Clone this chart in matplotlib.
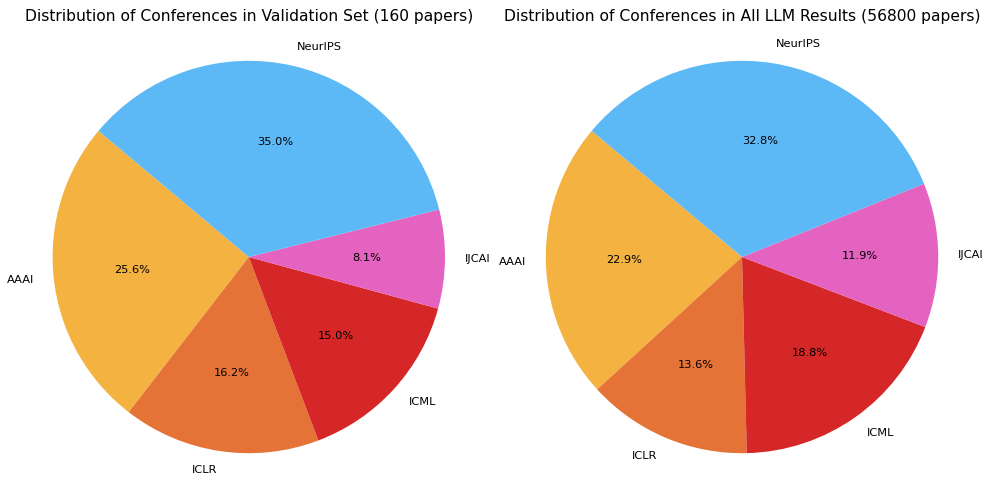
import matplotlib
matplotlib.use("Agg")
import matplotlib.pyplot as plt

conferences = ["AAAI", "ICLR", "ICML", "IJCAI", "NeurIPS"]
val_counts = [41, 26, 24, 13, 56]
all_pct = [22.9, 13.6, 18.8, 11.9, 32.8]
colors = ["#F4B240", "#E57338", "#D62728", "#E563C0", "#5DB9F5"]

W, H = 987, 480
R = 196.2  # pie radius in pixels
box_w, box_h = 480, 454


def add_pie_axes(cx, cy_top):
    # cx, cy_top: pie centre in pixels (y from the top)
    cy = H - cy_top
    ax = fig.add_axes([(cx - box_w / 2) / W, (cy - box_h / 2) / H, box_w / W, box_h / H])
    return ax


fig = plt.figure(figsize=(W / 100, H / 100), dpi=100)
ax1 = add_pie_axes(248.8, 257)
ax2 = add_pie_axes(742, 257)

for ax, vals, title in [
    (ax1, val_counts, "Distribution of Conferences in Validation Set (160 papers)"),
    (ax2, all_pct, "Distribution of Conferences in All LLM Results (56800 papers)"),
]:
    ax.pie(vals, labels=conferences, colors=colors, autopct="%1.1f%%",
           startangle=140, textprops={"fontsize": 8.2})
    ax.set_aspect("auto")
    ax.set_xlim(-box_w / 2 / R, box_w / 2 / R)
    ax.set_ylim(-box_h / 2 / R, box_h / 2 / R)
    ax.set_title(title, fontsize=11.2, pad=6.5)

plt.savefig("out.png")
